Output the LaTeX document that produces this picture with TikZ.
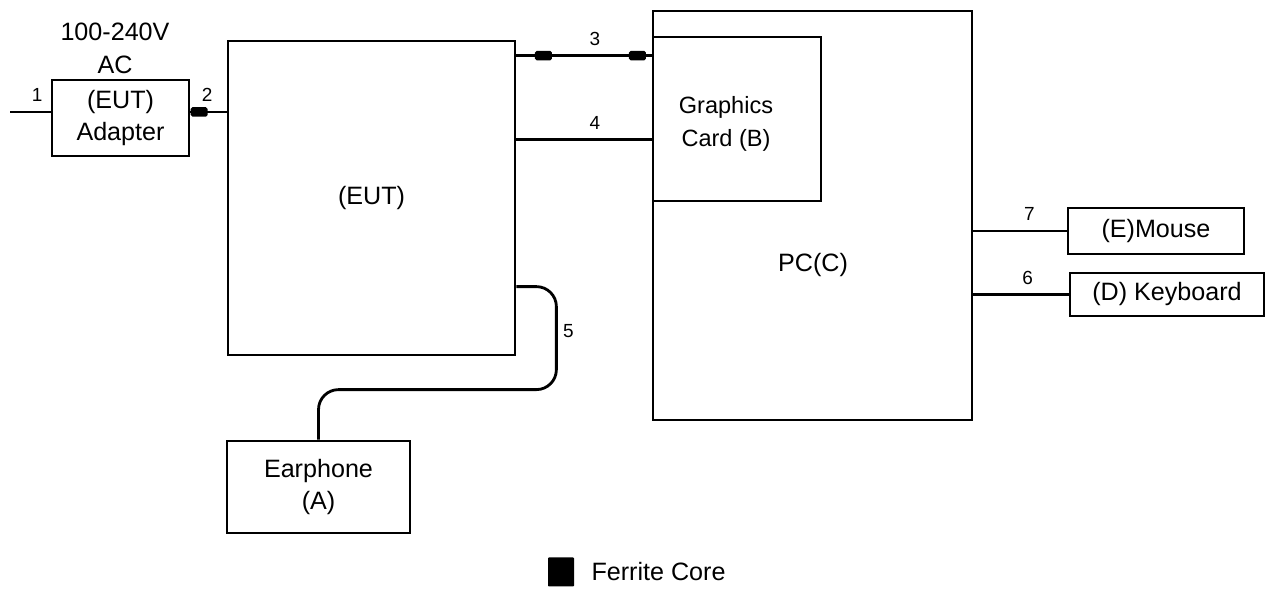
\documentclass[tikz,border=0pt]{standalone}
\usepackage{fontspec}
\setmainfont{Liberation Sans}
\usetikzlibrary{positioning,calc}

\begin{document}
\begin{tikzpicture}[
    x=0.02cm, y=-0.02cm,
    setup unit/.style={
        draw,
        line width=1.6pt,
        inner sep=0pt,
        align=center,
        font=\fontsize{14.3}{18.7}\selectfont
    },
    setup text/.style={
        align=center,
        font=\fontsize{14.3}{18.7}\selectfont
    },
    cable/.style={
        line width=1.6pt
    },
    cable no/.style={
        font=\fontsize{10.8}{12}\selectfont,
        inner sep=3pt
    },
    ferrite/.style={
        fill=black,
        rounded corners=1pt,
        minimum width=0.34cm,
        minimum height=0.19cm,
        inner sep=0pt
    }
]
    \useasboundingbox (0,0) rectangle (1265,590);

    % Geraete
    \node[setup unit, minimum width=2.74cm, minimum height=1.52cm]
        (adapter) at (120.5,118) {(EUT)\\Adapter};
    \node[setup text] (mains) at (115,48) {100-240V\\AC};
    \node[setup unit, minimum width=5.74cm, minimum height=6.28cm]
        (eut) at (371.5,198) {(EUT)};
    \node[setup unit, minimum width=6.38cm, minimum height=8.18cm]
        (pc) at (812.5,215.5) {};
    \node[setup text] (pclabel) at (813,265) {PC(C)};
    \node[setup unit, minimum width=3.36cm, minimum height=3.28cm]
        (gfx) at (737,119) {};
    \node[setup text, font=\fontsize{13.4}{18.7}\selectfont]
        (gfxlabel) at (726,124) {Graphics\\Card (B)};
    \node[setup unit, minimum width=3.52cm, minimum height=0.92cm]
        (mouse) at (1156,231) {(E)Mouse};
    \node[setup unit, minimum width=3.88cm, minimum height=0.86cm]
        (keyboard) at (1167,294.5) {(D) Keyboard};
    \node[setup unit, minimum width=3.66cm, minimum height=1.84cm]
        (earphone) at (318.5,487) {Earphone\\(A)};

    % Kabel 1 bis 7
    \coordinate (mainsin) at (10,112);
    \draw[cable] (mainsin)
        -- node[cable no, above=2pt, pos=0.67] {1} (mainsin -| adapter.west);
    \draw[cable] (mainsin -| adapter.east)
        -- node[cable no, above=2pt, pos=0.46] {2} (mainsin -| eut.west);
    \node[ferrite, anchor=west] (core2) at (mainsin -| adapter.east) {};

    \draw[cable] ($(eut.north east)+(0,16)$) coordinate (hdmi)
        -- node[ferrite, pos=0.2] (core3a) {}
           node[ferrite, pos=0.895] (core3b) {}
           node[cable no, above=2pt, pos=0.58] {3}
        (hdmi -| gfx.west);
    \draw[cable] ($(eut.north east)+(0,100)$) coordinate (vga)
        -- node[cable no, above=2pt, pos=0.58] {4} (vga -| gfx.west);

    \draw[cable, rounded corners=0.4cm] ($(eut.north east)+(0,247)$)
        -- ++(40,0)
        -- node[cable no, right, pos=0.43] {5} ++(0,103)
        -| (earphone.north);

    \draw[cable] (mouse.west -| pc.east)
        -- node[cable no, above=2pt, pos=0.6] {7} (mouse.west);
    \draw[cable] (keyboard.west -| pc.east)
        -- node[cable no, above=2pt, pos=0.57] {6} (keyboard.west);

    % Legende
    \node[ferrite, minimum width=0.52cm, minimum height=0.58cm,
        rounded corners=0.5pt] (keycore) at (561,572) {};
    \node[setup text, right=0.22cm of keycore] (keytext) {Ferrite Core};
\end{tikzpicture}
\end{document}
